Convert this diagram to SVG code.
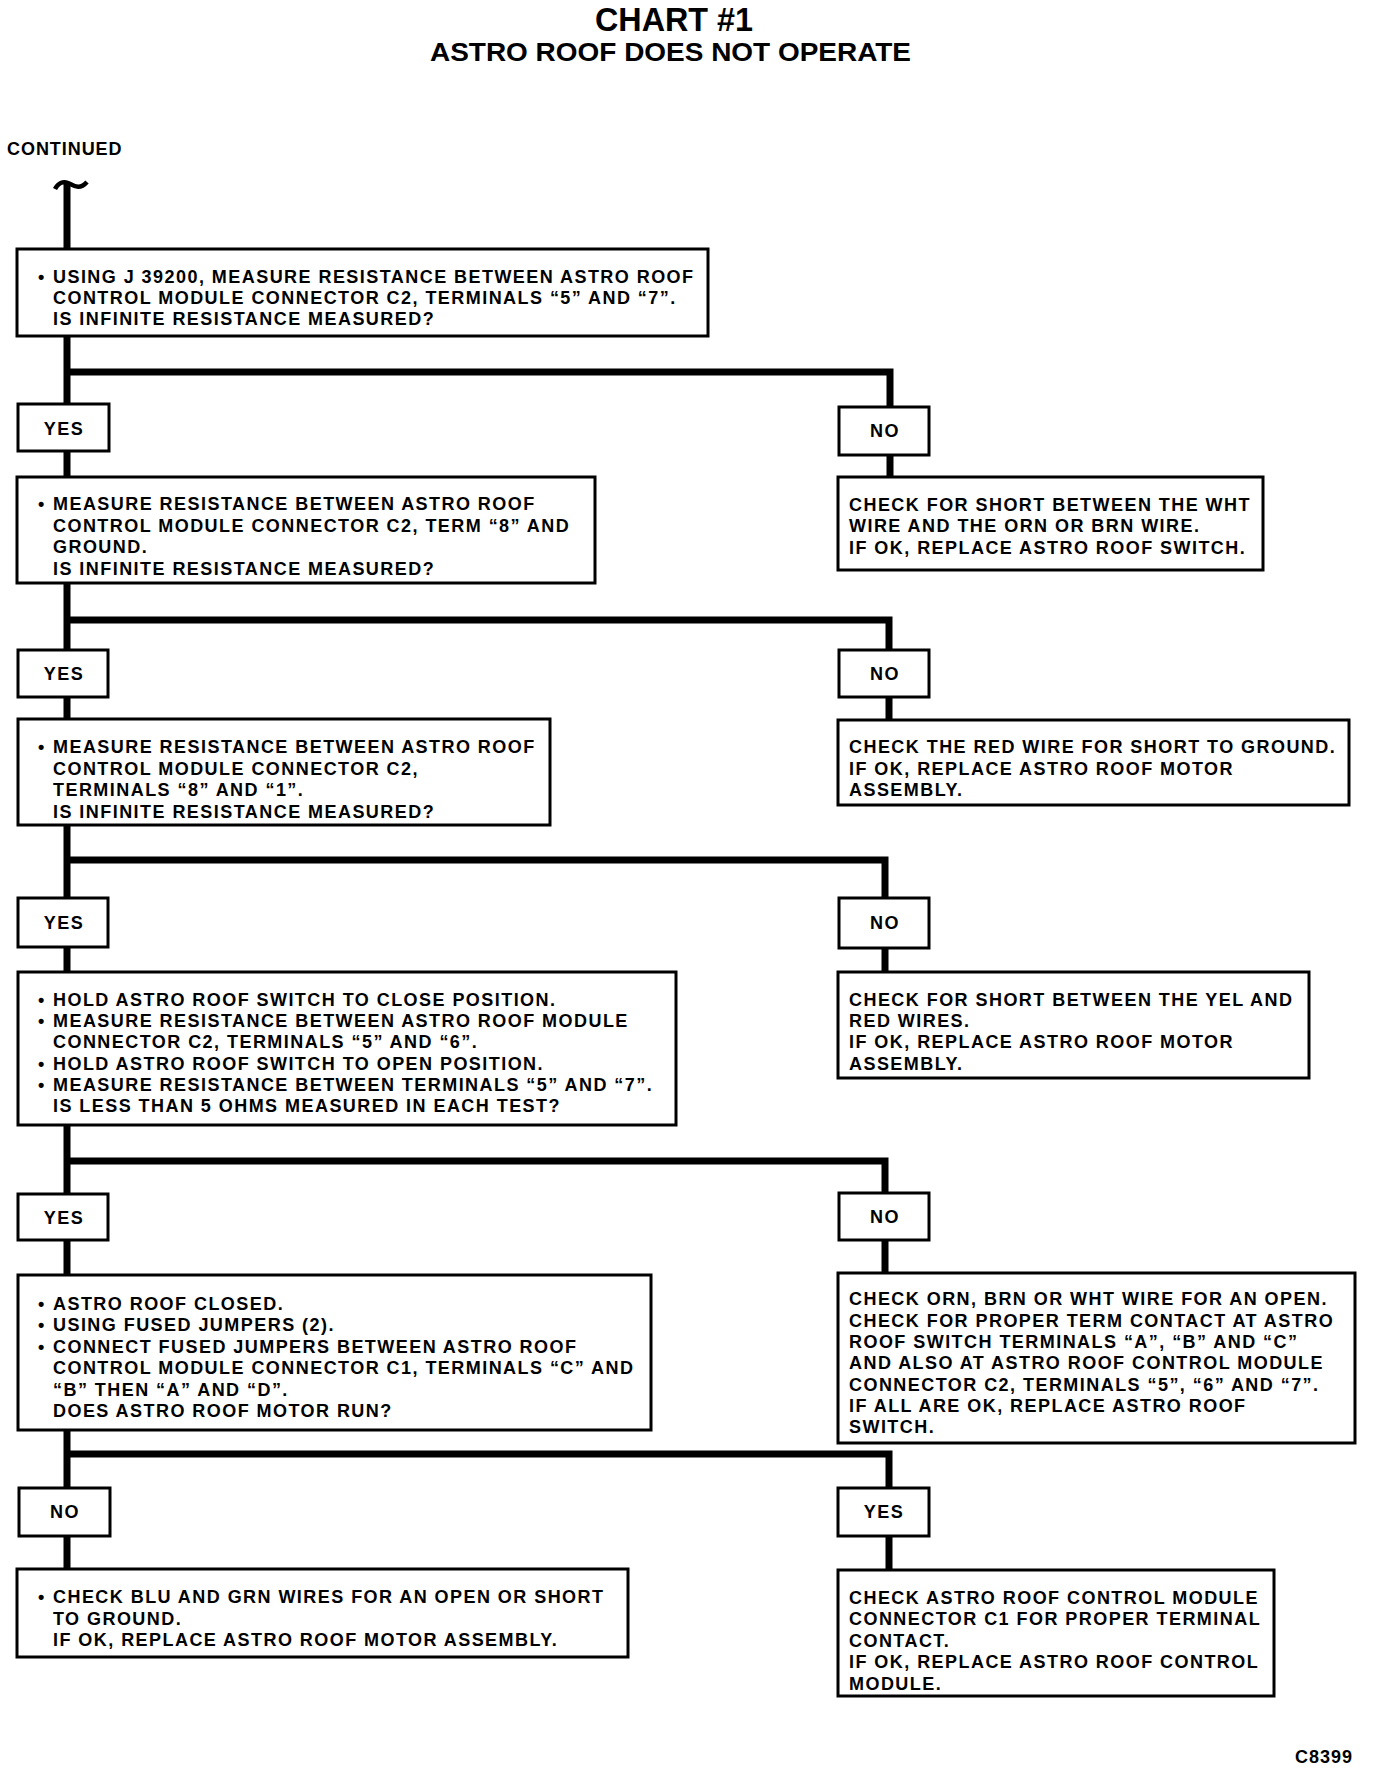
<svg xmlns="http://www.w3.org/2000/svg" width="1376" height="1770" viewBox="0 0 1376 1770">
<style>
.box{fill:#fff;stroke:#000;stroke-width:3}
.t{font-family:"Liberation Sans",Arial,Helvetica,sans-serif;font-weight:700;font-size:18px;letter-spacing:1.45px;fill:#000}
.lbl{font-family:"Liberation Sans",Arial,Helvetica,sans-serif;font-weight:700;font-size:18px;letter-spacing:1.5px;fill:#000;text-anchor:middle}
.conn{fill:none;stroke:#000;stroke-width:7;stroke-linecap:butt;stroke-linejoin:miter}
.title{font-family:"Liberation Sans",Arial,Helvetica,sans-serif;font-weight:700;fill:#000}
</style>
<rect width="1376" height="1770" fill="#fff"/>
<g id="title">
<text class="title" x="595" y="31" font-size="34" textLength="158" lengthAdjust="spacingAndGlyphs">CHART #1</text>
<text class="title" x="430" y="61" font-size="26" textLength="481" lengthAdjust="spacingAndGlyphs">ASTRO ROOF DOES NOT OPERATE</text>
</g>
<g id="continued">
<text class="t" x="7" y="155" textLength="116" lengthAdjust="spacing">CONTINUED</text>
</g>
<g id="connectors">
<path class="conn" d="M67,183 V1568"/>
<path d="M55,189 C58,183 63,181 68,183 S79,191 87,182" fill="none" stroke="#000" stroke-width="4.5"/>
<path class="conn" d="M67,372 H890 V476"/>
<path class="conn" d="M67,620 H889 V719"/>
<path class="conn" d="M67,860 H885 V971"/>
<path class="conn" d="M67,1161 H885 V1272"/>
<path class="conn" d="M67,1454 H889 V1569"/>
</g>
<g id="box1">
<rect class="box" x="17" y="249" width="691" height="87"/>
<text class="t" x="38" y="283">•</text>
<text class="t" x="53" y="283">USING J 39200, MEASURE RESISTANCE BETWEEN ASTRO ROOF</text>
<text class="t" x="53" y="304">CONTROL MODULE CONNECTOR C2, TERMINALS “5” AND “7”.</text>
<text class="t" x="53" y="325">IS INFINITE RESISTANCE MEASURED?</text>
</g>
<g id="yes1">
<rect class="box" x="18" y="404" width="91" height="47"/>
<text class="lbl" x="64" y="435">YES</text>
</g>
<g id="no1">
<rect class="box" x="839" y="407" width="90" height="48"/>
<text class="lbl" x="885" y="437">NO</text>
</g>
<g id="box2">
<rect class="box" x="17" y="477" width="578" height="106"/>
<text class="t" x="38" y="510">•</text>
<text class="t" x="53" y="510">MEASURE RESISTANCE BETWEEN ASTRO ROOF</text>
<text class="t" x="53" y="531.5">CONTROL MODULE CONNECTOR C2, TERM “8” AND</text>
<text class="t" x="53" y="553">GROUND.</text>
<text class="t" x="53" y="574.5">IS INFINITE RESISTANCE MEASURED?</text>
</g>
<g id="box2r">
<rect class="box" x="838" y="477" width="425" height="93"/>
<text class="t" x="849" y="511">CHECK FOR SHORT BETWEEN THE WHT</text>
<text class="t" x="849" y="532">WIRE AND THE ORN OR BRN WIRE.</text>
<text class="t" x="849" y="553.5">IF OK, REPLACE ASTRO ROOF SWITCH.</text>
</g>
<g id="yes2">
<rect class="box" x="18" y="650" width="90" height="47"/>
<text class="lbl" x="64" y="680">YES</text>
</g>
<g id="no2">
<rect class="box" x="839" y="650" width="90" height="47"/>
<text class="lbl" x="885" y="680">NO</text>
</g>
<g id="box3">
<rect class="box" x="18" y="719" width="532" height="106"/>
<text class="t" x="38" y="753">•</text>
<text class="t" x="53" y="753">MEASURE RESISTANCE BETWEEN ASTRO ROOF</text>
<text class="t" x="53" y="775">CONTROL MODULE CONNECTOR C2,</text>
<text class="t" x="53" y="796">TERMINALS “8” AND “1”.</text>
<text class="t" x="53" y="818">IS INFINITE RESISTANCE MEASURED?</text>
</g>
<g id="box3r">
<rect class="box" x="838" y="720" width="511" height="85"/>
<text class="t" x="849" y="753">CHECK THE RED WIRE FOR SHORT TO GROUND.</text>
<text class="t" x="849" y="775">IF OK, REPLACE ASTRO ROOF MOTOR</text>
<text class="t" x="849" y="796">ASSEMBLY.</text>
</g>
<g id="yes3">
<rect class="box" x="18" y="898" width="90" height="49"/>
<text class="lbl" x="64" y="929">YES</text>
</g>
<g id="no3">
<rect class="box" x="839" y="898" width="90" height="50"/>
<text class="lbl" x="885" y="929">NO</text>
</g>
<g id="box4">
<rect class="box" x="18" y="972" width="658" height="153"/>
<text class="t" x="38" y="1006">•</text>
<text class="t" x="53" y="1006">HOLD ASTRO ROOF SWITCH TO CLOSE POSITION.</text>
<text class="t" x="38" y="1027">•</text>
<text class="t" x="53" y="1027">MEASURE RESISTANCE BETWEEN ASTRO ROOF MODULE</text>
<text class="t" x="53" y="1048">CONNECTOR C2, TERMINALS “5” AND “6”.</text>
<text class="t" x="38" y="1070">•</text>
<text class="t" x="53" y="1070">HOLD ASTRO ROOF SWITCH TO OPEN POSITION.</text>
<text class="t" x="38" y="1091">•</text>
<text class="t" x="53" y="1091">MEASURE RESISTANCE BETWEEN TERMINALS “5” AND “7”.</text>
<text class="t" x="53" y="1112">IS LESS THAN 5 OHMS MEASURED IN EACH TEST?</text>
</g>
<g id="box4r">
<rect class="box" x="838" y="972" width="471" height="106"/>
<text class="t" x="849" y="1006">CHECK FOR SHORT BETWEEN THE YEL AND</text>
<text class="t" x="849" y="1027">RED WIRES.</text>
<text class="t" x="849" y="1048">IF OK, REPLACE ASTRO ROOF MOTOR</text>
<text class="t" x="849" y="1070">ASSEMBLY.</text>
</g>
<g id="yes4">
<rect class="box" x="18" y="1194" width="90" height="46"/>
<text class="lbl" x="64" y="1224">YES</text>
</g>
<g id="no4">
<rect class="box" x="839" y="1193" width="90" height="47"/>
<text class="lbl" x="885" y="1223">NO</text>
</g>
<g id="box5">
<rect class="box" x="18" y="1275" width="633" height="155"/>
<text class="t" x="38" y="1310">•</text>
<text class="t" x="53" y="1310">ASTRO ROOF CLOSED.</text>
<text class="t" x="38" y="1331">•</text>
<text class="t" x="53" y="1331">USING FUSED JUMPERS (2).</text>
<text class="t" x="38" y="1353">•</text>
<text class="t" x="53" y="1353">CONNECT FUSED JUMPERS BETWEEN ASTRO ROOF</text>
<text class="t" x="53" y="1374">CONTROL MODULE CONNECTOR C1, TERMINALS “C” AND</text>
<text class="t" x="53" y="1396">“B” THEN “A” AND “D”.</text>
<text class="t" x="53" y="1417">DOES ASTRO ROOF MOTOR RUN?</text>
</g>
<g id="box5r">
<rect class="box" x="838" y="1273" width="517" height="170"/>
<text class="t" x="849" y="1305">CHECK ORN, BRN OR WHT WIRE FOR AN OPEN.</text>
<text class="t" x="849" y="1327">CHECK FOR PROPER TERM CONTACT AT ASTRO</text>
<text class="t" x="849" y="1348">ROOF SWITCH TERMINALS “A”, “B” AND “C”</text>
<text class="t" x="849" y="1369">AND ALSO AT ASTRO ROOF CONTROL MODULE</text>
<text class="t" x="849" y="1391">CONNECTOR C2, TERMINALS “5”, “6” AND “7”.</text>
<text class="t" x="849" y="1412">IF ALL ARE OK, REPLACE ASTRO ROOF</text>
<text class="t" x="849" y="1433">SWITCH.</text>
</g>
<g id="no5">
<rect class="box" x="19" y="1488" width="91" height="48"/>
<text class="lbl" x="65" y="1518">NO</text>
</g>
<g id="yes5">
<rect class="box" x="838" y="1488" width="91" height="48"/>
<text class="lbl" x="884" y="1518">YES</text>
</g>
<g id="box6">
<rect class="box" x="17" y="1569" width="611" height="88"/>
<text class="t" x="38" y="1603">•</text>
<text class="t" x="53" y="1603">CHECK BLU AND GRN WIRES FOR AN OPEN OR SHORT</text>
<text class="t" x="53" y="1625">TO GROUND.</text>
<text class="t" x="53" y="1646">IF OK, REPLACE ASTRO ROOF MOTOR ASSEMBLY.</text>
</g>
<g id="box6r">
<rect class="box" x="838" y="1570" width="436" height="126"/>
<text class="t" x="849" y="1604">CHECK ASTRO ROOF CONTROL MODULE</text>
<text class="t" x="849" y="1625">CONNECTOR C1 FOR PROPER TERMINAL</text>
<text class="t" x="849" y="1647">CONTACT.</text>
<text class="t" x="849" y="1668">IF OK, REPLACE ASTRO ROOF CONTROL</text>
<text class="t" x="849" y="1690">MODULE.</text>
</g>
<g id="code">
<text class="t" x="1295" y="1763" style="letter-spacing:1px">C8399</text>
</g>
</svg>
